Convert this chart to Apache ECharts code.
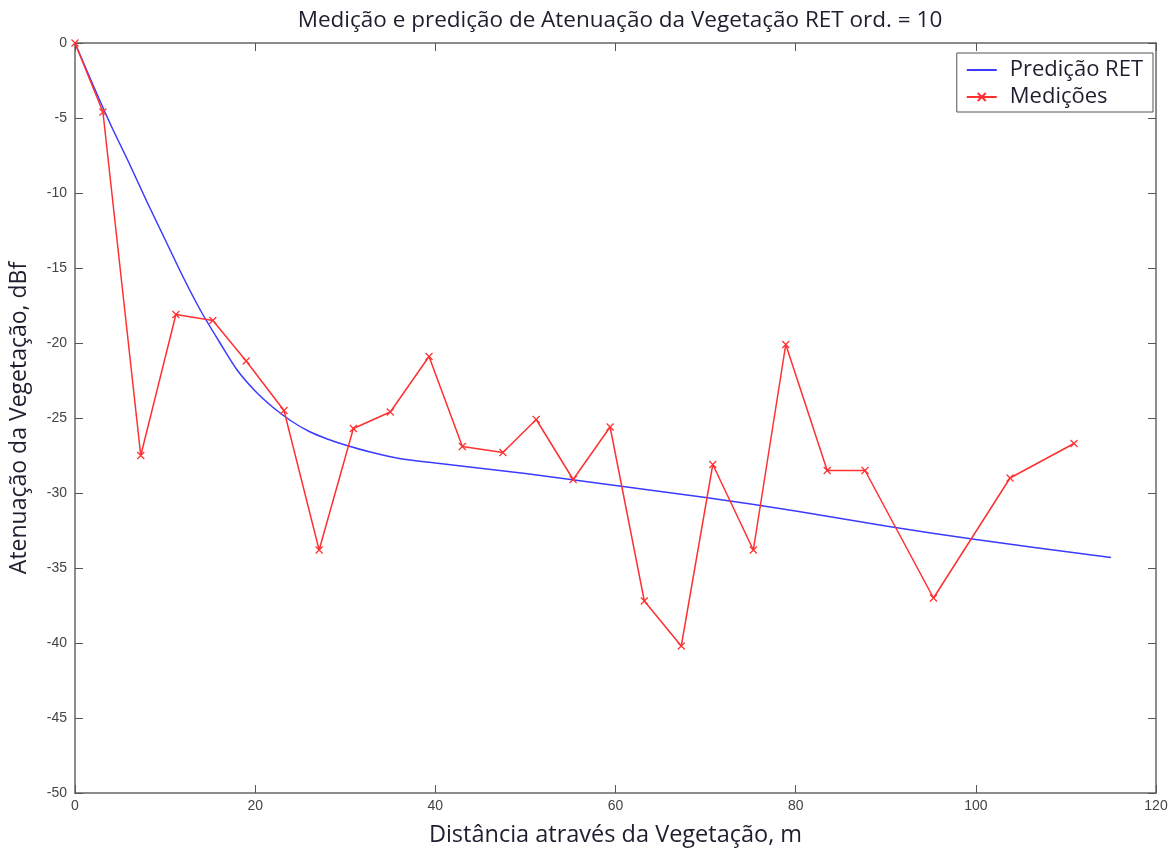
<!DOCTYPE html>
<html>
<head>
<meta charset="utf-8">
<script src="https://cdn.jsdelivr.net/npm/echarts@6/dist/echarts.min.js"></script>
<style>
  html, body { margin: 0; padding: 0; background: #fff; }
  #chart { width: 1173px; height: 852px; }
</style>
</head>
<body>
<div id="chart"></div>
<script>
// RET model prediction: distance (m) and attenuation (dB)
const predDist = [0, 2, 4, 6, 8, 10, 12, 14, 16, 18, 20, 22, 24, 26, 28, 30, 33, 36, 40, 50, 60, 70, 80, 90, 100, 115];
const predAtt  = [0, -2.8, -5.5, -8.0, -10.6, -13.1, -15.6, -17.9, -19.9, -21.8, -23.2, -24.3, -25.2, -25.9, -26.4, -26.8, -27.3, -27.7, -28.0, -28.7, -29.5, -30.3, -31.2, -32.2, -33.1, -34.3];

// Measured attenuation along the vegetation path
const measDist = [0, 3.1, 7.3, 11.2, 15.3, 19.0, 23.2, 27.1, 30.9, 35.0, 39.3, 43.0, 47.5, 51.2, 55.3, 59.4, 63.2, 67.3, 70.8, 75.3, 78.9, 83.5, 87.7, 95.3, 103.8, 110.9];
const measAtt  = [0, -4.6, -27.5, -18.1, -18.5, -21.2, -24.5, -33.8, -25.7, -24.6, -20.9, -26.9, -27.3, -25.1, -29.1, -25.6, -37.2, -40.2, -28.1, -33.8, -20.1, -28.5, -28.5, -37.0, -29.0, -26.7];

const titleText = 'Medição e predição de Atenuação da Vegetação RET ord. = 10';
const xName = 'Distância através da Vegetação, m';
const yName = 'Atenuação da Vegetação, dBf';

const pair = (xs, ys) => xs.map((x, i) => [x, ys[i]]);

const axisLineStyle = { color: '#666', width: 1.5 };
const tickLabel = { color: '#444', fontFamily: 'Liberation Sans', fontSize: 14 };
const crossSymbol = 'path://M0,0L10,10M10,0L0,10';
const labelFont = { fontFamily: 'Open Sans', color: '#1e1e2e' };

const chart = echarts.init(document.getElementById('chart'), null, { renderer: 'canvas' });
chart.setOption({
  backgroundColor: '#fff',
  animation: false,
  title: {
    text: titleText,
    left: 615, top: 4, textAlign: 'center',
    textStyle: Object.assign({ fontSize: 22.5, fontWeight: 'normal' }, labelFont)
  },
  legend: {
    orient: 'vertical',
    right: 20, top: 53,
    backgroundColor: '#fff',
    borderColor: '#555', borderWidth: 1, borderRadius: 0,
    padding: [6, 10, 4, 9],
    itemGap: 5,
    itemWidth: 30, itemHeight: 10,
    textStyle: Object.assign({ fontSize: 22, padding: [0, 0, 0, 8] }, labelFont),
    data: [
      // the prediction curve has no markers, so its legend key is a bare line
      { name: 'Predição RET', itemStyle: { opacity: 0 } },
      { name: 'Medições' }
    ]
  },
  grid: { left: 74, right: 17, top: 43, bottom: 57, containLabel: false },
  xAxis: [
    {
      type: 'value', min: 0, max: 120, interval: 20,
      position: 'bottom',
      name: xName, nameLocation: 'middle', nameGap: 30,
      nameTextStyle: Object.assign({ fontSize: 23.5 }, labelFont),
      axisLine: { onZero: false, lineStyle: axisLineStyle },
      axisTick: { inside: true, length: 8, lineStyle: { color: '#555' } },
      axisLabel: Object.assign({ margin: 6 }, tickLabel),
      splitLine: { show: false }
    },
    {
      type: 'value', min: 0, max: 120, interval: 20,
      position: 'top',
      axisLine: { onZero: false, lineStyle: axisLineStyle },
      axisTick: { inside: true, length: 8, lineStyle: { color: '#555' } },
      axisLabel: { show: false },
      splitLine: { show: false }
    }
  ],
  yAxis: [
    {
      type: 'value', min: -50, max: 0, interval: 5,
      position: 'left',
      name: yName, nameLocation: 'middle', nameGap: 44,
      nameTextStyle: Object.assign({ fontSize: 23 }, labelFont),
      axisLine: { onZero: false, lineStyle: axisLineStyle },
      axisTick: { inside: true, length: 8, lineStyle: { color: '#555' } },
      axisLabel: Object.assign({ margin: 8 }, tickLabel),
      splitLine: { show: false }
    },
    {
      type: 'value', min: -50, max: 0, interval: 5,
      position: 'right',
      axisLine: { onZero: false, lineStyle: axisLineStyle },
      axisTick: { inside: true, length: 8, lineStyle: { color: '#555' } },
      axisLabel: { show: false },
      splitLine: { show: false }
    }
  ],
  series: [
    {
      name: 'Predição RET',
      type: 'line',
      data: pair(predDist, predAtt),
      showSymbol: false,
      symbol: 'none',
      smooth: 0.3,
      lineStyle: { color: '#3b3bff', width: 1.5 },
      itemStyle: { color: '#3b3bff' },
      z: 2
    },
    {
      name: 'Medições',
      type: 'line',
      data: pair(measDist, measAtt),
      symbol: crossSymbol,
      symbolSize: 7,
      lineStyle: { color: '#ff3030', width: 1.5 },
      itemStyle: { color: '#ff3030', borderColor: '#ff3030', borderWidth: 1.2 },
      z: 3
    }
  ]
});
</script>
</body>
</html>
